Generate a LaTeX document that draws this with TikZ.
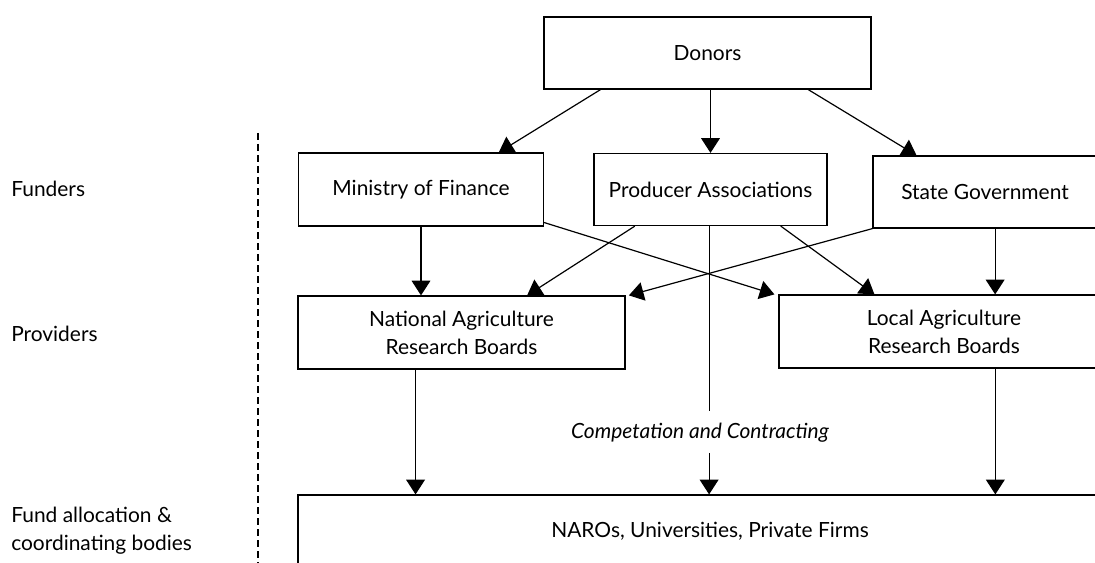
\documentclass[tikz,border=0pt]{standalone}
\usepackage{fontspec}
\setmainfont{Lato}
\usetikzlibrary{arrows.meta,calc}
\begin{document}
\begin{tikzpicture}[x=0.75pt,y=-0.75pt,
  box/.style={draw,line width=0.9pt,inner sep=0pt,align=center,font=\fontsize{15.7}{21}\selectfont},
  lab/.style={anchor=west,inner sep=0pt,align=left,font=\fontsize{15.7}{21}\selectfont},
  arr/.style={line width=0.9pt,-{Triangle[length=11pt,width=14pt]}},
  ln/.style={line width=0.9pt}]
\useasboundingbox (0,0) rectangle (1095,563);
\clip (0,0) rectangle (1095,563);
\node[box,minimum width=245.25pt,minimum height=54pt] (donors) at (707.5,53) {Donors};
\node[box,minimum width=183.75pt,minimum height=54.75pt] (mof) at (421,189.5) {Ministry of Finance};
\node[box,minimum width=174.75pt,minimum height=54pt] (prod) at (710.5,189.5) {Producer Associations};
\node[box,minimum width=168pt,minimum height=54pt] (state) at (985,192) {State Government};
\node[box,minimum width=245.25pt,minimum height=54.75pt] (nat) at (461.5,332.5) {National Agriculture\\Research Boards};
\node[box,minimum width=247.5pt,minimum height=54.75pt] (loc) at (944,331.5) {Local Agriculture\\Research Boards};
\node[box,minimum width=618pt,minimum height=54pt] (naro) at (710,531) {NAROs, Universities, Private Firms};
\node[lab] (funders) at (11,189) {Funders};
\node[lab] (providers) at (11,334) {Providers};
\node[lab] (fund) at (11,531) {Fund allocation \&\\coordinating bodies};
\node[inner sep=0pt,font=\itshape\fontsize{15.7}{18}\selectfont] (comp) at (700,433) {Competation and Contracting};
\coordinate (dtop) at (258,133);
\coordinate (dbot) at (258,570);
\draw[line width=2pt,dash pattern=on 5.25pt off 3pt] (dtop) -- (dbot);
% helper coordinates on box edges
\coordinate (d1) at ($(donors.south west)!0.174!(donors.south east)$);
\coordinate (d3) at ($(donors.south west)!0.807!(donors.south east)$);
\coordinate (m1) at ($(mof.north west)!0.816!(mof.north east)$);
\coordinate (s1) at ($(state.north west)!0.196!(state.north east)$);
\coordinate (m2) at ($(mof.south east)!0.055!(mof.north east)$);
\coordinate (l1) at ($(loc.north west)!-0.012!(loc.north east)$);
\coordinate (p1) at ($(prod.south west)!0.177!(prod.south east)$);
\coordinate (n1) at ($(nat.north west)!0.70!(nat.north east)$);
\coordinate (p2) at ($(prod.south west)!0.80!(prod.south east)$);
\coordinate (l2) at ($(loc.north west)!0.29!(loc.north east)$);
\coordinate (n2) at ($(nat.north west)!1.01!(nat.north east)$);
\coordinate (s2) at ($(state.south west)!0.545!(state.south east)$);
\coordinate (n3) at ($(nat.south west)!0.36!(nat.south east)$);
\coordinate (l3) at ($(loc.south west)!0.655!(loc.south east)$);
\coordinate (pv) at ($(prod.south west)!0.494!(prod.south east)$);
\coordinate (c1) at ($(pv |- comp.north)+(0,-12)$);
\coordinate (c2) at ($(pv |- comp.south)+(0,10)$);
% donors
\draw[arr] (d1) -- (m1);
\draw[arr] (donors.south -| prod.north) -- (prod.north);
\draw[arr] (d3) -- (s1);
% funders to providers
\draw[arr] (mof.south) -- (mof.south |- nat.north);
\draw[arr] (m2) -- (l1);
\draw[arr] (p1) -- (n1);
\draw[arr] (p2) -- (l2);
\draw[arr] (state.south west) -- (n2);
\draw[arr] (s2) -- (s2 |- loc.north);
% providers to bodies
\draw[arr] (n3) -- (n3 |- naro.north);
\draw[arr] (l3) -- (l3 |- naro.north);
\draw[ln] (pv) -- (c1);
\draw[arr] (c2) -- (c2 |- naro.north);
\end{tikzpicture}
\end{document}
